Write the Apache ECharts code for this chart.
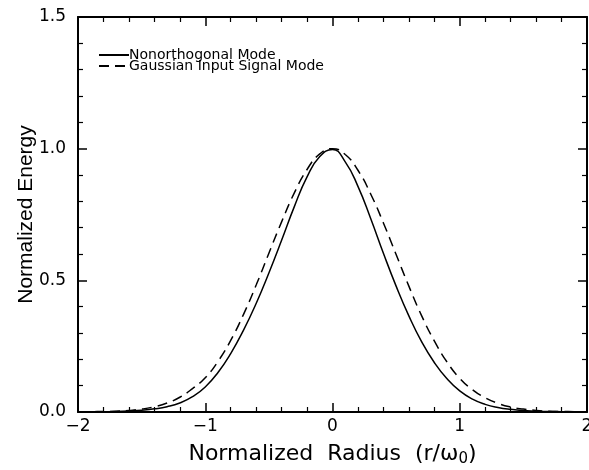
<!DOCTYPE html>
<html><head><meta charset="utf-8">
<script src="https://cdn.jsdelivr.net/npm/echarts@6/dist/echarts.min.js"></script>
<style>html,body{margin:0;padding:0;background:#fff;overflow:hidden}#c{width:589px;height:470px}</style>
</head><body><div id="c"></div>
<script>
const radius = [-2.0,-1.9,-1.8,-1.7,-1.6,-1.5,-1.4,-1.3,-1.2,-1.1,-1.0,-0.9,-0.8,-0.7,-0.6,-0.5,-0.4,-0.3,-0.2,-0.1,0.0,0.1,0.2,0.3,0.4,0.5,0.6,0.7,0.8,0.9,1.0,1.1,1.2,1.3,1.4,1.5,1.6,1.7,1.8,1.9,2.0];
const nonorthogonal = [0.000,0.000,0.001,0.002,0.004,0.007,0.012,0.020,0.034,0.058,0.095,0.150,0.222,0.310,0.412,0.528,0.652,0.780,0.893,0.970,0.997,0.950,0.857,0.735,0.603,0.478,0.365,0.267,0.188,0.126,0.080,0.049,0.029,0.017,0.010,0.006,0.003,0.002,0.001,0.000,0.000];
const gaussianInput = [0.000,0.001,0.002,0.003,0.006,0.011,0.020,0.034,0.056,0.089,0.130,0.192,0.272,0.370,0.482,0.603,0.722,0.832,0.921,0.980,1.000,0.978,0.918,0.828,0.718,0.598,0.478,0.366,0.270,0.190,0.128,0.085,0.054,0.033,0.019,0.011,0.006,0.003,0.002,0.001,0.000];
const seriesNames = ['Nonorthogonal Mode','Gaussian Input Signal Mode'];
const xTicks = {'-2':'\u22122','-1':'\u22121','0':'0','1':'1','2':'2'};

const font = 'Liberation Sans, Arial, sans-serif';
const wide = 'DejaVu Sans, sans-serif';
const chart = echarts.init(document.getElementById('c'), null, {renderer:'canvas', width:589, height:470});
const axisCommon = {
  axisLine:{show:true, onZero:false, lineStyle:{color:'#000', width:2}},
  splitLine:{show:false},
  minorSplitLine:{show:false},
};
chart.setOption({
  animation:false,
  backgroundColor:'#fff',
  grid:{left:78, right:2, top:17, bottom:58, containLabel:false, outerBoundsMode:'none'},
  legend:{
    left:93, top:43, orient:'vertical', itemWidth:30, itemHeight:11, itemGap:-3, padding:[5,5,5,5],
    itemStyle:{opacity:0},
    textStyle:{fontFamily:wide, fontSize:14, lineHeight:11, height:11, color:'#000', padding:[0,0,0,-5]},
    data:seriesNames
  },
  xAxis:[{
    ...axisCommon, type:'value', min:-2, max:2, interval:1, position:'bottom',
    axisTick:{show:true, inside:true, length:9, lineStyle:{color:'#000', width:1.5}},
    minorTick:{show:true, splitNumber:5, length:5, lineStyle:{color:'#000', width:1.2}},
    axisLabel:{fontFamily:wide, fontSize:17, color:'#000', margin:6, formatter:v=>xTicks[String(v)]},
    name:'Normalized  Radius  (r/\u03c9{s|0})', nameLocation:'middle', nameGap:30,
    nameTextStyle:{fontFamily:wide, fontSize:22, color:'#000', rich:{s:{fontFamily:wide, fontSize:15, color:'#000', verticalAlign:'bottom', padding:[10,0,0,0]}}}
  },{
    ...axisCommon, type:'value', min:-2, max:2, interval:1, position:'top',
    axisTick:{show:true, inside:true, length:9, lineStyle:{color:'#000', width:1.5}},
    minorTick:{show:true, splitNumber:5, length:5, lineStyle:{color:'#000', width:1.2}},
    axisLabel:{show:false}
  }],
  yAxis:[{
    ...axisCommon, type:'value', min:0, max:1.5, interval:0.5, position:'left',
    axisTick:{show:true, inside:true, length:9, lineStyle:{color:'#000', width:1.5}},
    minorTick:{show:true, splitNumber:5, length:5, lineStyle:{color:'#000', width:1.2}},
    axisLabel:{fontFamily:wide, fontSize:17, color:'#000', margin:12, formatter:v=>v.toFixed(1)},
    name:'Normalized Energy', nameLocation:'middle', nameGap:41, nameMoveOverlap:false,
    nameTextStyle:{fontFamily:font, fontSize:21, color:'#000'}
  },{
    ...axisCommon, type:'value', min:0, max:1.5, interval:0.5, position:'right',
    axisTick:{show:true, inside:true, length:9, lineStyle:{color:'#000', width:1.5}},
    minorTick:{show:true, splitNumber:5, length:5, lineStyle:{color:'#000', width:1.2}},
    axisLabel:{show:false}
  }],
  series:[{
    name:seriesNames[0], type:'line', smooth:true, showSymbol:false, symbol:'none',
    data:radius.map((r,i)=>[r, nonorthogonal[i]]),
    lineStyle:{color:'#000', width:1.5, type:'solid'}, itemStyle:{color:'#000'}
  },{
    name:seriesNames[1], type:'line', smooth:true, showSymbol:false, symbol:'none',
    data:radius.map((r,i)=>[r, gaussianInput[i]]),
    lineStyle:{color:'#000', width:1.5, type:[10,6]}, itemStyle:{color:'#000'}
  }]
});
</script></body></html>
